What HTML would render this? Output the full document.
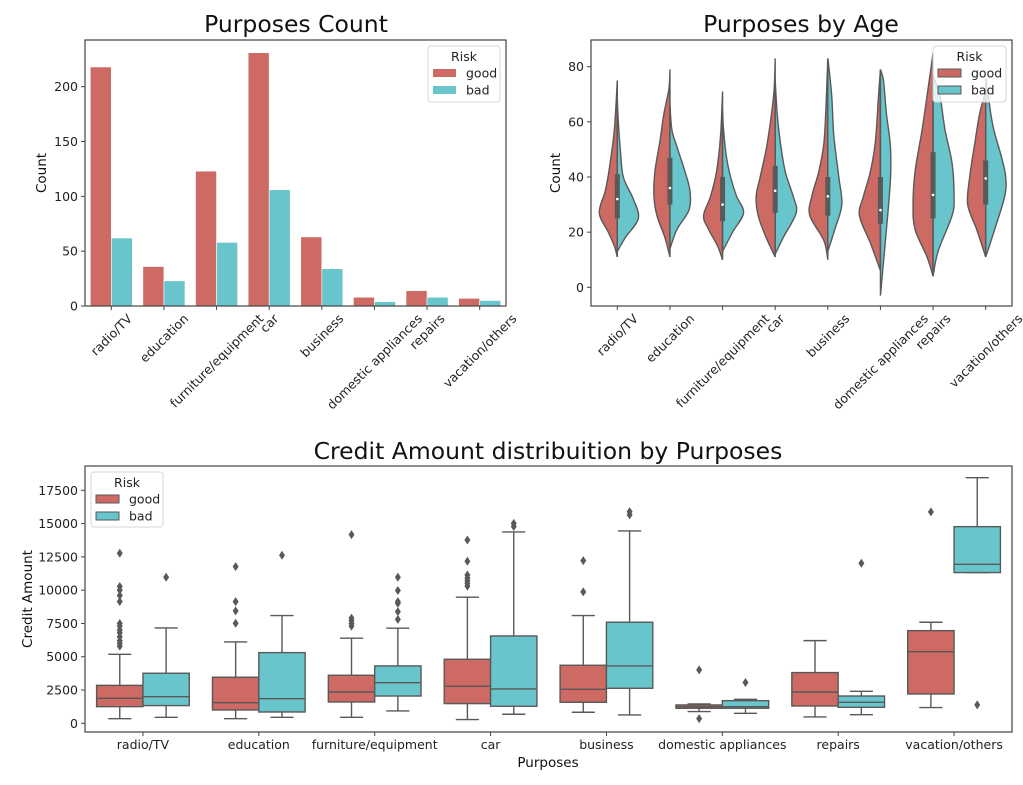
<!DOCTYPE html>
<html><head><meta charset="utf-8">
<style>
html,body{margin:0;padding:0;background:#fff;}
svg{display:block;font-family:"DejaVu Sans","Liberation Sans",sans-serif;}
</style></head>
<body>
<svg id="fig" width="1023" height="785" viewBox="0 0 1023 785" xmlns="http://www.w3.org/2000/svg">
<rect width="1023" height="785" fill="#fff"/>
<g id="g1"></g>
<g id="g2"></g>
<g id="g3"></g>
</svg>
<script>
const categories=["radio/TV","education","furniture/equipment","car","business","domestic appliances","repairs","vacation/others"];
const goodCount=[218,36,123,231,63,8,14,7];
const badCount=[62,23,58,106,34,4,8,5];
const countTicks=[0,50,100,150,200];
const ageTicks=[0,20,40,60,80];
const amountTicks=[0,2500,5000,7500,10000,12500,15000,17500];
// violin densities: [age, half-width density]
const goodViolin=[
[[11,0],[15,3],[20,9],[27,18],[35,12],[43,8],[57,3],[75,0]],
[[11,0],[18,5],[26,13],[33,16],[42,15],[53,10],[63,6],[72,1],[79,0]],
[[10,0],[15,5],[21,14],[26,19],[33,12],[42,6],[55,2],[71,0]],
[[11,0],[18,9],[26,17],[33,19],[40,15],[50,9],[62,4],[72,1],[83,0]],
[[10,0],[17,4],[26,18],[33,16],[42,9],[52,4],[64,2],[83,0]],
[[6,0],[16,10],[26,21],[33,17],[42,10],[53,5],[69,2],[79,0]],
[[4,0],[11,6],[21,18],[30,20],[42,18],[57,11],[72,5],[85,0]],
[[11,0],[21,9],[30,18],[40,16],[52,11],[63,6],[71,0]]];
const badViolin=[
[[13,0],[18,8],[25,21],[32,16],[40,6],[50,3],[60,1],[68,0]],
[[14,0],[21,7],[28,19],[35,20],[42,15],[51,7],[57,2],[66,0]],
[[13,0],[20,10],[27,21],[33,14],[40,8],[47,4],[57,1],[64,0]],
[[12,0],[18,8],[27,21],[33,18],[42,10],[53,5],[63,2],[75,0]],
[[13,0],[21,7],[30,14],[40,11],[55,6],[69,4],[80,1],[83,0]],
[[-3,0],[9,3],[21,6],[39,10],[51,10],[63,6],[75,3],[79,0]],
[[4,0],[13,5],[26,19],[33,21],[45,19],[57,12],[69,7],[77,0]],
[[11,0],[21,9],[33,19],[40,20],[47,16],[59,7],[76,0]]];
const ageQ1=[25,30,24,27,26,23,25,30];
const ageMed=[32,36,30,35,33,28,33.5,39.5];
const ageQ3=[41,47,40,44,40,40,49,46];
const ageWLo=[13,12,12,12,12,6,5,12];
const ageWHi=[68,72,60,70,72,72,80,70];
// credit amount boxes
const goodStats=[[350,1250,1880,2850,5180],[350,1000,1550,3460,6110],[450,1600,2350,3610,6390],[280,1480,2780,4810,9470],[830,1580,2550,4360,8090],[880,1130,1250,1380,1450],[480,1300,2350,3810,6210],[1180,2200,5380,6960,7590]];
const badStats=[[450,1330,2000,3760,7160],[450,850,1850,5310,8090],[930,2050,3050,4310,7140],[680,1280,2580,6560,14370],[630,2630,4310,7590,14450],[750,1130,1250,1700,1800],[650,1200,1580,2050,2400],[11320,11320,11940,14770,18450]];
const goodFliers=[[12770,10270,10000,9600,9150,7500,7300,7000,6800,6500,6200,6000,5800],[11770,9140,8440,7510],[14170,7900,7700,7500,7300],[13770,12170,11140,10900,10700,10500,10300],[12220,9870],[4010,350],[],[15880]];
const badFliers=[[10970],[12620],[10970,9970,9140,9010,8390,7810],[15020,14780],[15900,15650],[3060],[12020],[1380]];

const NS="http://www.w3.org/2000/svg";
const RED="#cd6a63",CYAN="#68c5cb",LINE="#595959",SPINE="#444";
function mk(parent,tag,attrs,name,text){const e=document.createElementNS(NS,tag);for(const k in attrs)e.setAttribute(k,attrs[k]);


if(text!==undefined)e.textContent=text;parent.appendChild(e);return e;}
function lin(d0,d1,r0,r1){return v=>r0+(v-d0)*(r1-r0)/(d1-d0);}
function axesFrame(g,x0,y0,x1,y1){mk(g,'rect',{x:x0,y:y0,width:x1-x0,height:y1-y0,fill:'none',stroke:SPINE,'stroke-width':1.2},'axes-frame');}
function yTicks(g,ticks,Y,x0,name){ticks.forEach(t=>{mk(g,'line',{x1:x0-4,x2:x0,y1:Y(t),y2:Y(t),stroke:SPINE},name+'-tick');
mk(g,'text',{x:x0-7,y:Y(t)+4.5,'text-anchor':'end','font-size':12.5,fill:'#222'},name+'-tick-label',String(t));});}
function rotXLabels(g,X,yb){categories.forEach((c,i)=>{const x=X(i);mk(g,'line',{x1:x,x2:x,y1:yb,y2:yb+4,stroke:SPINE},'x-tick');
const t=mk(g,'text',{'font-size':12.5,fill:'#222','text-anchor':'middle'},'x-tick-label',c);
const w=t.getComputedTextLength(),h=12;const s=(w+h)*Math.SQRT1_2;const cy=yb+6+s/2;
t.setAttribute('x',x);t.setAttribute('y',cy+4.5);t.setAttribute('transform','rotate(-45 '+x+' '+cy+')');});}
function legend(g,x,y,w,h,patchEdge){mk(g,'rect',{x:x,y:y,width:w,height:h,rx:3,fill:'#fff','fill-opacity':0.8,stroke:'#d6d6d6'},'legend-box');
mk(g,'text',{x:x+w/2,y:y+15,'text-anchor':'middle','font-size':12.5,fill:'#222'},'legend-title','Risk');
[["good",RED],["bad",CYAN]].forEach((p,k)=>{const py=y+23+k*17;
mk(g,'rect',{x:x+5,y:py,width:23,height:8,fill:p[1],stroke:patchEdge?LINE:'none','stroke-width':1},'legend-patch-'+p[0]);
mk(g,'text',{x:x+38,y:py+8.5,'font-size':12.5,fill:'#222'},'legend-label-'+p[0],p[0]);});}

// chart 1
(function(){const g=document.getElementById('g1');const x0=85,x1=506,y0=40,y1=306;
const Y=lin(0,200,306,86.7);const step=(x1-x0)/categories.length;const X=i=>x0+step*(i+0.5);const bw=step*0.4;
mk(g,'text',{x:296,y:32,'text-anchor':'middle','font-size':23.5,fill:'#111'},'chart-title','Purposes Count');
categories.forEach((c,i)=>{
mk(g,'rect',{x:X(i)-bw,y:Y(goodCount[i]),width:bw,height:Y(0)-Y(goodCount[i]),fill:RED,stroke:'#fff','stroke-width':0.6},'bar-good-'+i);
mk(g,'rect',{x:X(i),y:Y(badCount[i]),width:bw,height:Y(0)-Y(badCount[i]),fill:CYAN,stroke:'#fff','stroke-width':0.6},'bar-bad-'+i);});
axesFrame(g,x0,y0,x1,y1);yTicks(g,countTicks,Y,x0,'y');rotXLabels(g,X,y1);
mk(g,'text',{x:46,y:173,'text-anchor':'middle','font-size':13.5,fill:'#111',transform:'rotate(-90 46 173)'},'y-axis-title','Count');
legend(g,428,46,72,56,false);})();

function smoothPath(pts){let d='M'+pts[0][0]+','+pts[0][1];for(let i=0;i<pts.length-1;i++){const p0=pts[i-1]||pts[i],p1=pts[i],p2=pts[i+1],p3=pts[i+2]||p2;
const c1=[p1[0]+(p2[0]-p0[0])/6,p1[1]+(p2[1]-p0[1])/6],c2=[p2[0]-(p3[0]-p1[0])/6,p2[1]-(p3[1]-p1[1])/6];
d+=' C'+c1[0]+','+c1[1]+' '+c2[0]+','+c2[1]+' '+p2[0]+','+p2[1];}return d;}
// chart 2
(function(){const g=document.getElementById('g2');const x0=591,x1=1012,y0=40,y1=306;
const Y=lin(0,80,287.3,66.7);const step=(x1-x0)/categories.length;const X=i=>x0+step*(i+0.5);const scale=1.0;
mk(g,'text',{x:801,y:32,'text-anchor':'middle','font-size':23.5,fill:'#111'},'chart-title','Purposes by Age');
categories.forEach((c,i)=>{const cx=X(i);
[[goodViolin[i],-1,RED,'good'],[badViolin[i],1,CYAN,'bad']].forEach(v=>{const pts=v[0].map(k=>[cx+v[1]*k[1]*scale,Y(k[0])]);
const first=v[0][0],last=v[0][v[0].length-1];
let d=smoothPath(pts)+' L'+cx+','+Y(last[0])+' L'+cx+','+Y(first[0])+' Z';
mk(g,'path',{d:d,fill:v[2],stroke:LINE,'stroke-width':1.4},'violin-'+v[3]+'-'+i);});
mk(g,'line',{x1:cx,x2:cx,y1:Y(ageWLo[i]),y2:Y(ageWHi[i]),stroke:LINE,'stroke-width':1.3},'violin-whisker-'+i);
mk(g,'rect',{x:cx-2.5,y:Y(ageQ3[i]),width:5,height:Y(ageQ1[i])-Y(ageQ3[i]),fill:LINE},'violin-iqr-'+i);
mk(g,'circle',{cx:cx,cy:Y(ageMed[i]),r:1.3,fill:'#fff'},'violin-median-'+i);});
axesFrame(g,x0,y0,x1,y1);yTicks(g,ageTicks,Y,x0,'y');rotXLabels(g,X,y1);
mk(g,'text',{x:560,y:173,'text-anchor':'middle','font-size':13.5,fill:'#111',transform:'rotate(-90 560 173)'},'y-axis-title','Count');
legend(g,933,46,73,56,true);})();

// chart 3
(function(){const g=document.getElementById('g3');const x0=85,x1=1012,y0=466,y1=732;
const Y=lin(0,17500,723.3,490.3);const step=(x1-x0)/categories.length;const X=i=>x0+step*(i+0.5);const bw=step*0.4;
mk(g,'text',{x:548,y:459,'text-anchor':'middle','font-size':23.5,fill:'#111'},'chart-title','Credit Amount distribuition by Purposes');
function box(cx,s,fl,col,name){const cap=bw/4;
mk(g,'line',{x1:cx,x2:cx,y1:Y(s[0]),y2:Y(s[1]),stroke:LINE,'stroke-width':1.4},name+'-whisker-low');
mk(g,'line',{x1:cx,x2:cx,y1:Y(s[3]),y2:Y(s[4]),stroke:LINE,'stroke-width':1.4},name+'-whisker-high');
mk(g,'line',{x1:cx-cap,x2:cx+cap,y1:Y(s[0]),y2:Y(s[0]),stroke:LINE,'stroke-width':1.4},name+'-cap-low');
mk(g,'line',{x1:cx-cap,x2:cx+cap,y1:Y(s[4]),y2:Y(s[4]),stroke:LINE,'stroke-width':1.4},name+'-cap-high');
mk(g,'rect',{x:cx-bw/2,y:Y(s[3]),width:bw,height:Math.max(Y(s[1])-Y(s[3]),1),fill:col,stroke:LINE,'stroke-width':1.4},name+'-box');
mk(g,'line',{x1:cx-bw/2,x2:cx+bw/2,y1:Y(s[2]),y2:Y(s[2]),stroke:LINE,'stroke-width':1.4},name+'-median');
fl.forEach(v=>{const y=Y(v);mk(g,'path',{d:'M'+cx+','+(y-4.5)+' L'+(cx+3)+','+y+' L'+cx+','+(y+4.5)+' L'+(cx-3)+','+y+' Z',fill:LINE},name+'-flier');});}
categories.forEach((c,i)=>{box(X(i)-bw/2,goodStats[i],goodFliers[i],RED,'box-good-'+i);box(X(i)+bw/2,badStats[i],badFliers[i],CYAN,'box-bad-'+i);
mk(g,'line',{x1:X(i),x2:X(i),y1:y1,y2:y1+4,stroke:SPINE},'x-tick');
mk(g,'text',{x:X(i),y:y1+17,'text-anchor':'middle','font-size':12.5,fill:'#222'},'x-tick-label',c);});
axesFrame(g,x0,y0,x1,y1);yTicks(g,amountTicks,Y,x0,'y');
mk(g,'text',{x:32,y:599,'text-anchor':'middle','font-size':13.5,fill:'#111',transform:'rotate(-90 32 599)'},'y-axis-title','Credit Amount');
mk(g,'text',{x:548,y:767,'text-anchor':'middle','font-size':13.5,fill:'#111'},'x-axis-title','Purposes');
legend(g,91,472,72,55,true);})();
</script>
</body></html>
